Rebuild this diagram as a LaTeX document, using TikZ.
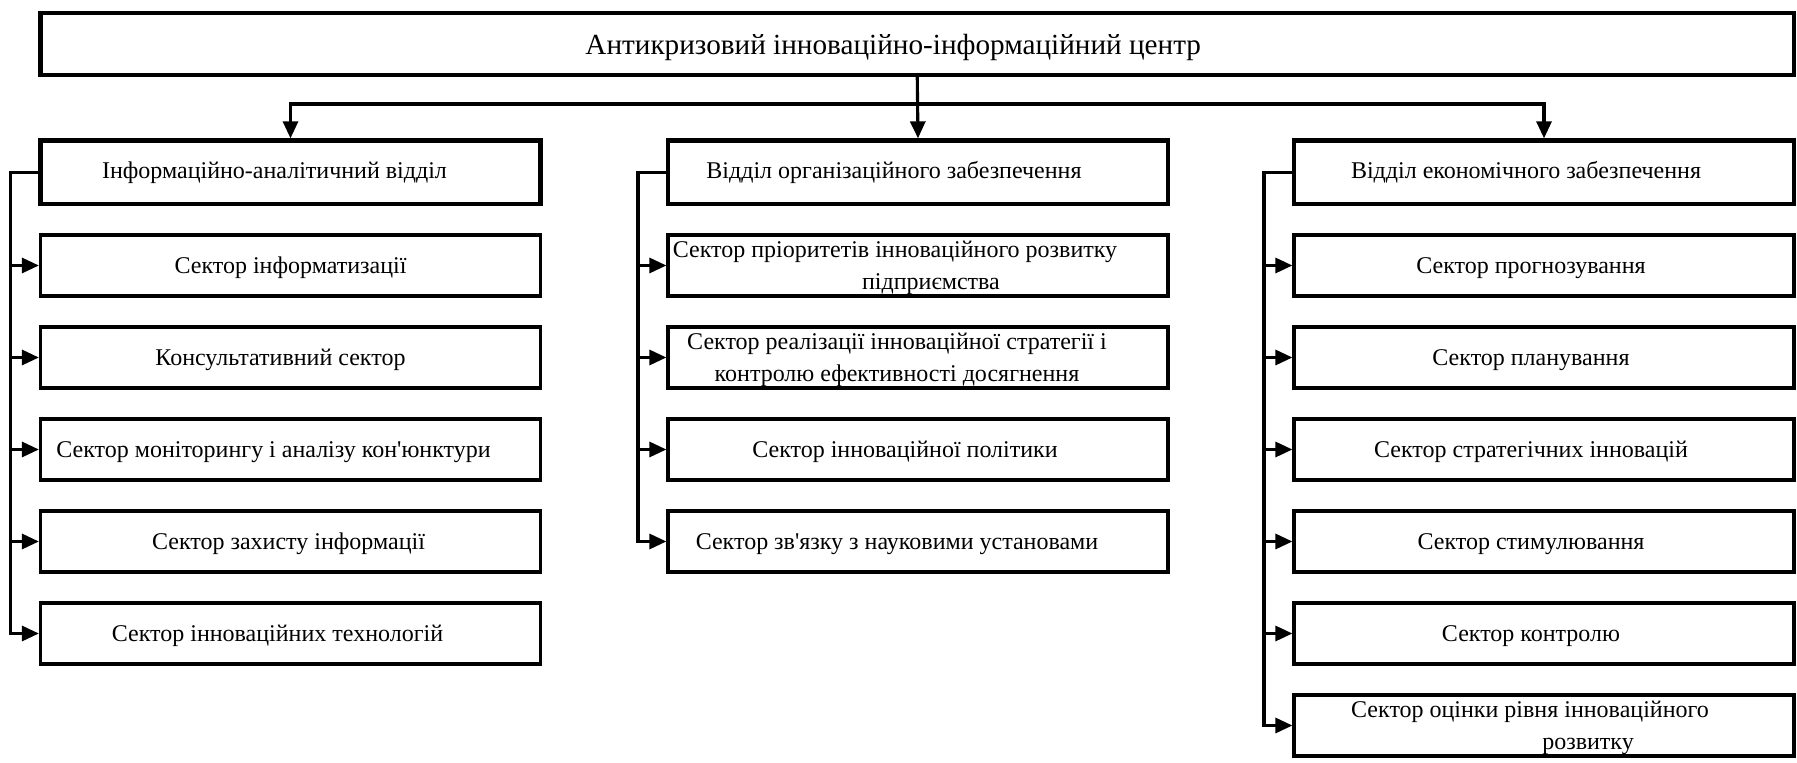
\documentclass[tikz,border=0pt]{standalone}
\usepackage{fontspec}
\setmainfont{Liberation Serif}
\usetikzlibrary{arrows.meta}
\begin{document}
\begin{tikzpicture}[x=0.5pt,y=-0.5pt,
  topbox/.style={draw,line width=2.15pt,minimum width=876.75pt,minimum height=31pt,inner sep=0pt,text depth=-1.5pt,font=\fontsize{14.6pt}{17pt}\selectfont},
  deptbox/.style={draw,line width=2.15pt,minimum width=250pt,minimum height=31.75pt,inner sep=0pt,font=\fontsize{12pt}{16pt}\selectfont},
  secbox/.style={draw,line width=1.6pt,minimum width=250pt,minimum height=30.5pt,inner sep=0pt,align=center,text depth=-0.8pt,font=\fontsize{12pt}{16pt}\selectfont},
  arr/.style={line width=1.55pt,-{Triangle[length=8.5pt,width=7.5pt]}},
  conn/.style={line width=1.55pt}
]
\useasboundingbox (0,0) rectangle (1797,763);

% top
\node[topbox] (top) at (917.25,44) {Антикризовий інноваційно-інформаційний центр\hspace*{24pt}};

% departments
\node[deptbox] (dl) at (290.5,172.25) {Інформаційно-аналітичний відділ\hspace*{16pt}};
\node[deptbox] (dm) at (918,172.25) {Відділ організаційного забезпечення\hspace*{24pt}};
\node[deptbox] (dr) at (1544,172.25) {Відділ економічного забезпечення\hspace*{18pt}};

% left sectors
\node[secbox] (l1) at (290.5,265.5) {Сектор інформатизації};
\node[secbox] (l2) at (290.5,357.5) {Консультативний сектор\hspace*{10pt}};
\node[secbox] (l3) at (290.5,449.5) {Сектор моніторингу і аналізу кон\textquotesingle юнктури\hspace*{17pt}};
\node[secbox] (l4) at (290.5,541.5) {Сектор захисту інформації\hspace*{2pt}};
\node[secbox] (l5) at (290.5,633.5) {Сектор інноваційних технологій\hspace*{13pt}};

% middle sectors
\node[secbox] (m1) at (918,265.5) {Сектор пріоритетів інноваційного розвитку\hspace*{23pt}\\\hspace*{13pt}підприємства};
\node[secbox] (m2) at (918,357.5) {Сектор реалізації інноваційної стратегії і\hspace*{21pt}\\контролю ефективності досягнення\hspace*{21pt}};
\node[secbox] (m3) at (918,449.5) {Сектор інноваційної політики\hspace*{13pt}};
\node[secbox] (m4) at (918,541.5) {Сектор зв\textquotesingle язку з науковими установами\hspace*{21pt}};

% right sectors
\node[secbox] (r1) at (1544,265.5) {Сектор прогнозування\hspace*{13pt}};
\node[secbox] (r2) at (1544,357.5) {Сектор планування\hspace*{13pt}};
\node[secbox] (r3) at (1544,449.5) {Сектор стратегічних інновацій\hspace*{13pt}};
\node[secbox] (r4) at (1544,541.5) {Сектор стимулювання\hspace*{13pt}};
\node[secbox] (r5) at (1544,633.5) {Сектор контролю\hspace*{13pt}};
\node[secbox] (r6) at (1544,725.5) {Сектор оцінки рівня інноваційного\hspace*{14pt}\\\hspace*{44pt}розвитку};

% top connectors
\coordinate (hub) at (918,104);
\draw[arr] (top.south) -- (dm.north);
\draw[arr] (hub) -| (dl.north);
\draw[arr] (hub) -| (dr.north);

% left bus
\coordinate (bl) at (10.5,172.25);
\draw[arr] (dl.west) -- (bl) |- (l5.west);
\foreach \s in {l1,l2,l3,l4} \draw[arr] (bl |- \s.west) -- (\s.west);

% middle bus
\coordinate (bm) at (638,172.25);
\draw[arr] (dm.west) -- (bm) |- (m4.west);
\foreach \s in {m1,m2,m3} \draw[arr] (bm |- \s.west) -- (\s.west);

% right bus
\coordinate (br) at (1264,172.25);
\draw[arr] (dr.west) -- (br) |- (r6.west);
\foreach \s in {r1,r2,r3,r4,r5} \draw[arr] (br |- \s.west) -- (\s.west);
\end{tikzpicture}
\end{document}
